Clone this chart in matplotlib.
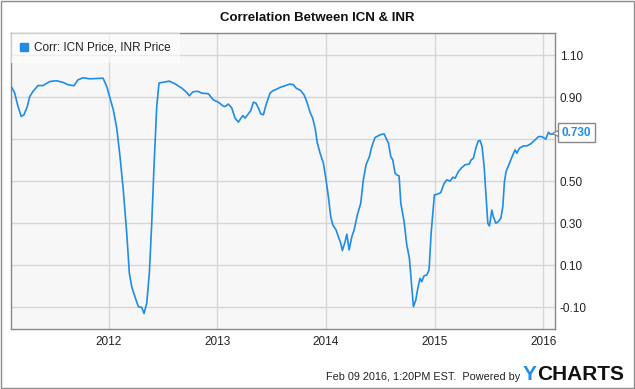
import matplotlib
matplotlib.use('Agg')
import matplotlib.pyplot as plt
from matplotlib.lines import Line2D
from matplotlib.patches import Rectangle
import matplotlib.transforms as mtransforms

plt.rcParams['font.family'] = ['Liberation Sans', 'DejaVu Sans']

# Rolling correlation (decimal year, correlation)
years = [
    2011.107, 2011.134, 2011.165, 2011.195, 2011.220, 2011.250, 2011.273, 2011.303,
    2011.349, 2011.395, 2011.457, 2011.517, 2011.579, 2011.625, 2011.680, 2011.717,
    2011.763, 2011.825, 2011.948, 2011.982, 2012.012, 2012.042, 2012.074, 2012.104,
    2012.134, 2012.166, 2012.190, 2012.212, 2012.242, 2012.273, 2012.304, 2012.325,
    2012.350, 2012.374, 2012.396, 2012.417, 2012.442, 2012.463, 2012.503, 2012.558,
    2012.611, 2012.672, 2012.718, 2012.742, 2012.773, 2012.795, 2012.825, 2012.856,
    2012.917, 2012.963, 2013.009, 2013.050, 2013.071, 2013.101, 2013.133, 2013.163,
    2013.193, 2013.234, 2013.255, 2013.285, 2013.308, 2013.332, 2013.356, 2013.378,
    2013.400, 2013.424, 2013.448, 2013.485, 2013.510, 2013.547, 2013.577, 2013.623,
    2013.669, 2013.700, 2013.725, 2013.768, 2013.798, 2013.823, 2013.854, 2013.878,
    2013.900, 2013.921, 2013.946, 2013.976, 2014.001, 2014.022, 2014.044, 2014.063,
    2014.093, 2014.114, 2014.136, 2014.151, 2014.176, 2014.192, 2014.213, 2014.238,
    2014.259, 2014.289, 2014.320, 2014.344, 2014.369, 2014.400, 2014.422, 2014.452,
    2014.483, 2014.505, 2014.535, 2014.575, 2014.597, 2014.615, 2014.636, 2014.652,
    2014.673, 2014.689, 2014.719, 2014.744, 2014.768, 2014.790, 2014.805, 2014.827,
    2014.845, 2014.866, 2014.882, 2014.903, 2014.928, 2014.949, 2014.968, 2014.998,
    2015.026, 2015.057, 2015.088, 2015.112, 2015.143, 2015.168, 2015.189, 2015.219,
    2015.251, 2015.281, 2015.320, 2015.336, 2015.357, 2015.382, 2015.403, 2015.419,
    2015.437, 2015.456, 2015.474, 2015.490, 2015.505, 2015.527, 2015.541, 2015.564,
    2015.587, 2015.610, 2015.628, 2015.643, 2015.658, 2015.689, 2015.720, 2015.741,
    2015.757, 2015.781, 2015.818, 2015.849, 2015.886, 2015.925, 2015.956, 2015.987,
    2016.024, 2016.048, 2016.064, 2016.088, 2016.107,
]
corr = [
    0.946, 0.920, 0.855, 0.808, 0.816, 0.855, 0.903, 0.927,
    0.955, 0.955, 0.974, 0.978, 0.970, 0.959, 0.954, 0.982,
    0.992, 0.987, 0.990, 0.950, 0.895, 0.840, 0.752, 0.617,
    0.459, 0.252, 0.062, -0.002, -0.050, -0.097, -0.100, -0.129,
    -0.081, 0.062, 0.300, 0.570, 0.855, 0.967, 0.971, 0.976,
    0.963, 0.943, 0.922, 0.906, 0.924, 0.927, 0.927, 0.919,
    0.916, 0.887, 0.876, 0.859, 0.855, 0.867, 0.848, 0.800,
    0.781, 0.812, 0.800, 0.820, 0.836, 0.876, 0.871, 0.848,
    0.820, 0.816, 0.863, 0.919, 0.930, 0.938, 0.946, 0.954,
    0.962, 0.959, 0.943, 0.931, 0.911, 0.879, 0.827, 0.800,
    0.752, 0.681, 0.633, 0.586, 0.506, 0.427, 0.331, 0.292,
    0.268, 0.236, 0.205, 0.170, 0.212, 0.248, 0.173, 0.236,
    0.268, 0.340, 0.395, 0.506, 0.578, 0.617, 0.665, 0.708,
    0.716, 0.722, 0.725, 0.681, 0.617, 0.601, 0.538, 0.530,
    0.525, 0.395, 0.308, 0.197, 0.133, -0.002, -0.097, -0.065,
    -0.010, 0.038, 0.022, 0.050, 0.054, 0.078, 0.252, 0.435,
    0.438, 0.446, 0.490, 0.506, 0.501, 0.519, 0.514, 0.546,
    0.565, 0.578, 0.582, 0.601, 0.609, 0.662, 0.692, 0.693,
    0.665, 0.570, 0.427, 0.300, 0.287, 0.363, 0.331, 0.300,
    0.308, 0.324, 0.379, 0.498, 0.546, 0.586, 0.625, 0.649,
    0.633, 0.657, 0.668, 0.668, 0.678, 0.697, 0.712, 0.712,
    0.700, 0.733, 0.724, 0.724, 0.730,
]
year_ticks = [2012, 2013, 2014, 2015, 2016]
corr_ticks = [-0.10, 0.10, 0.30, 0.50, 0.70, 0.90, 1.10]
hidden_tick = 0.70   # its label sits under the last-value flag
last_label = '0.730'
series_name = 'Corr: ICN Price, INR Price'

blue = '#1f8ce6'

fig = plt.figure(figsize=(6.35, 3.89), dpi=100)
fig.patch.set_facecolor('white')
ax = fig.add_axes([0.0169, 0.1542, 0.8567, 0.7610])
ax.set_facecolor('#f7f7f7')

ax.plot(years, corr, color=blue, lw=1.2, zorder=3)

ax.set_xlim(2011.098, 2016.106)
ax.set_ylim(-0.203, 1.205)
ax.set_xticks(year_ticks)
ax.set_xticklabels([str(y) for y in year_ticks])
ax.set_yticks(corr_ticks)
ax.set_yticklabels(['' if abs(v - hidden_tick) < 1e-9 else f'{v:.2f}' for v in corr_ticks])
ax.yaxis.tick_right()
ax.tick_params(axis='both', length=0, labelsize=8.5, labelcolor='#222222')
ax.tick_params(axis='x', pad=5)
ax.tick_params(axis='y', pad=3.5)
ax.grid(True, color='#d6d6d6', lw=1)
ax.set_axisbelow(True)
for s in ax.spines.values():
    s.set_color('#888888')
    s.set_linewidth(1)

handle = Line2D([], [], marker='s', ls='none', color=blue, markersize=5.5)
leg = ax.legend([handle], [series_name], loc='upper left', bbox_to_anchor=(0, 1),
                borderaxespad=0, fontsize=8.5, frameon=True, fancybox=False,
                facecolor='white', edgecolor='none', framealpha=0.6,
                borderpad=0.75, handlelength=0.8, handletextpad=0.45)
leg.get_frame().set_linewidth(0)
for t in leg.get_texts():
    t.set_color('#222222')

# last value flag
ptr = mtransforms.offset_copy(ax.transData, fig=fig, x=0.5, y=0, units='points')
ax.plot(years[-1], corr[-1], marker='<', ms=6, mfc='white', mec='#888888',
        mew=1, transform=ptr, clip_on=False, zorder=4)
ax.annotate(last_label, xy=(years[-1], corr[-1]), xytext=(5, 0),
            textcoords='offset points', ha='left', va='center', color=blue,
            fontsize=8.5, fontweight='bold', annotation_clip=False, zorder=5,
            bbox=dict(boxstyle='square,pad=0.3', fc='white', ec='#888888', lw=1))

fig.text(0.5, 0.954, 'Correlation Between ICN & INR', ha='center', va='center',
         fontsize=9.5, fontweight='bold', color='#111111')

fig.text(0.819, 0.0244, 'Feb 09 2016, 1:20PM EST.  Powered by', ha='right',
         va='baseline', fontsize=7.8, color='#222222')
fig.text(0.8457, 0.0231, 'Y', ha='right', va='baseline', fontsize=15,
         fontweight='bold', color=blue)
fig.text(0.8457, 0.0231, 'CHARTS', ha='left', va='baseline', fontsize=15,
         fontweight='bold', color='#111111')

fig.patches.append(Rectangle((0.0008, 0.0013), 0.9984, 0.9974, transform=fig.transFigure,
                             fill=False, ec='#8c8c8c', lw=1))

fig.savefig('out.png', dpi=100)
